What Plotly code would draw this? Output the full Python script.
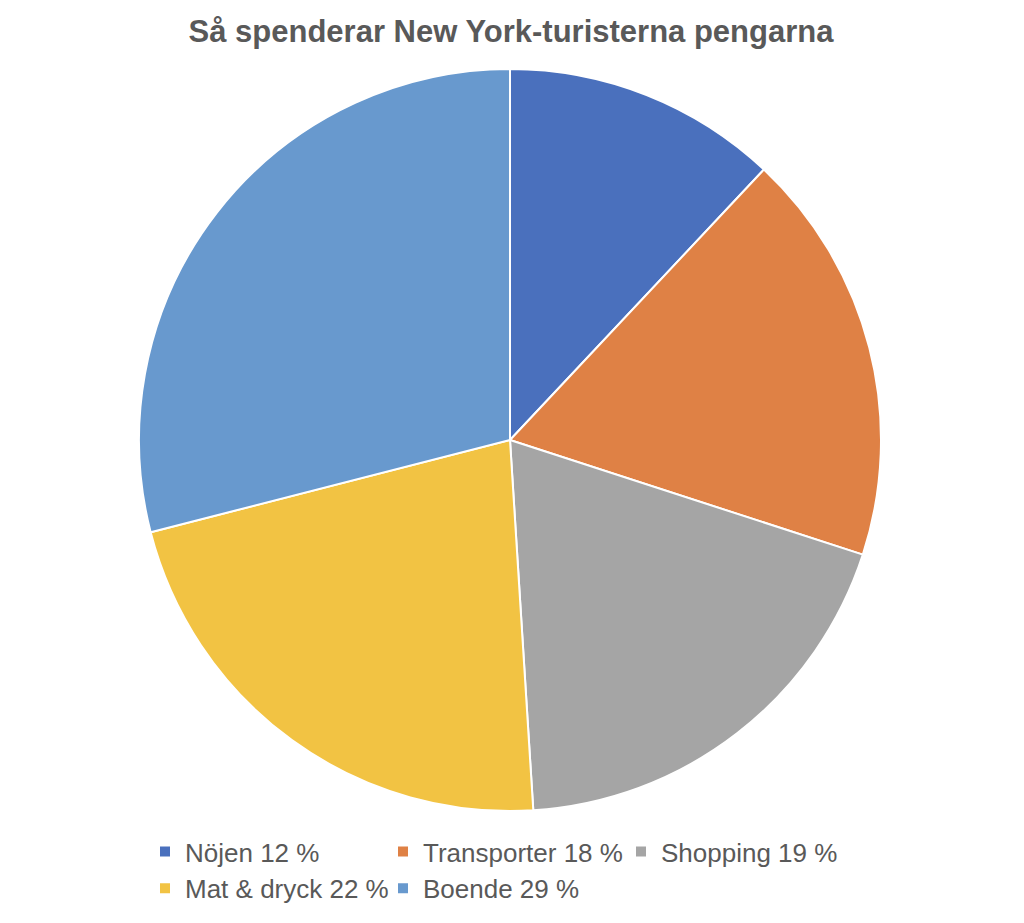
import plotly.graph_objects as go

# Data
labels = ["Nöjen 12 %", "Transporter 18 %", "Shopping 19 %", "Mat & dryck 22 %", "Boende 29 %"]
values = [12, 18, 19, 22, 29]
colors = ["#4A70BD", "#DF8145", "#A5A5A5", "#F2C343", "#6899CE"]

W, H = 1024, 923
B = 112          # bottom margin reserved for the legend
R = 100          # right margin (narrows plot area so legend wraps after 3 items)
PW, PH = W - R, H - B
OFF = 8          # default html body margin
# pie placement (screen pixels): center (510, 440), radius ~371
cx, cy, r = 510 - OFF, 440 - OFF, 371

fig = go.Figure(go.Pie(
    labels=labels,
    values=values,
    sort=False,
    direction="clockwise",
    rotation=0,
    marker=dict(colors=colors, line=dict(color="white", width=2)),
    textinfo="none",
    hoverinfo="label",
    domain=dict(x=[(cx - r) / PW, (cx + r) / PW], y=[1 - (cy + r) / PH, 1 - (cy - r) / PH]),
))

fig.update_layout(
    width=W, height=H,
    margin=dict(l=0, r=R, t=0, b=B, autoexpand=False),
    paper_bgcolor="white",
    font=dict(family="Liberation Sans, Arial", color="#595959"),
    title=dict(text="<b>Så spenderar New York-turisterna pengarna</b>",
               x=(511 - OFF) / W, xanchor="center", y=1 - (31 - OFF) / H, yanchor="middle",
               font=dict(size=31, color="#595959")),
    legend=dict(orientation="h", x=137 / PW, xanchor="left", y=-(820 - PH) / PH, yanchor="top",
                font=dict(size=26, color="#595959"),
                entrywidth=193, itemwidth=30, tracegroupgap=0,
                traceorder="normal"),
    showlegend=True,
)

fig.write_html("out.html")
